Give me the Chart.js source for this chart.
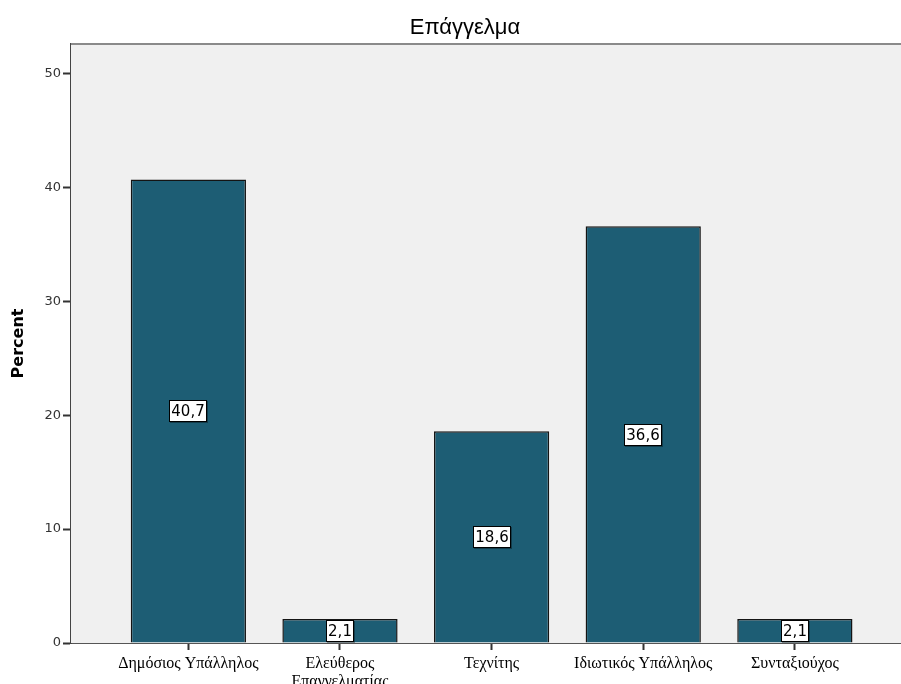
<!DOCTYPE html>
<html>
<head>
<meta charset="utf-8">
<script src="https://cdn.jsdelivr.net/npm/chart.js@4.4.1/dist/chart.umd.min.js"></script>
<style>
  html, body { margin: 0; padding: 0; background: #ffffff; }
  #wrap { width: 901px; height: 684px; }
</style>
</head>
<body>
<div id="wrap"><canvas id="c" width="901" height="684"></canvas></div>
<script>
// Occupation distribution (percent of respondents)
const categories = [
  'Δημόσιος Υπάλληλος',
  ['Ελεύθερος', 'Επαγγελματίας'],
  'Τεχνίτης',
  'Ιδιωτικός Υπάλληλος',
  'Συνταξιούχος'
];
const percents = [40.7, 2.1, 18.6, 36.6, 2.1];
const yTicks = [0, 10, 20, 30, 40, 50];
const chartTitle = 'Επάγγελμα';
const yTitle = 'Percent';

const positions = categories.map((_, i) => i + 1);
const points = percents.map((v, i) => ({ x: positions[i], y: v }));

const fmt = v => v.toFixed(1).replace('.', ',');

// Grey plot background with a frame line along the top
const plotFrame = {
  id: 'plotFrame',
  beforeDatasetsDraw(chart) {
    const { ctx, chartArea: a } = chart;
    ctx.save();
    ctx.fillStyle = '#f0f0f0';
    ctx.fillRect(a.left, a.top, a.right - a.left, a.bottom - a.top);
    ctx.strokeStyle = '#8a8a8a';
    ctx.lineWidth = 2;
    ctx.beginPath();
    ctx.moveTo(a.left, a.top);
    ctx.lineTo(a.right, a.top);
    ctx.stroke();
    ctx.restore();
  }
};

// Title drawn above the plot
const titleText = {
  id: 'titleText',
  afterDraw(chart) {
    const { ctx } = chart;
    ctx.save();
    ctx.font = '22px "Liberation Sans", Arial, sans-serif';
    ctx.fillStyle = '#000';
    ctx.textAlign = 'center';
    ctx.textBaseline = 'middle';
    ctx.fillText(chartTitle, 465, 28);
    ctx.restore();
  }
};

// Value boxes centred on each bar
const valueBoxes = {
  id: 'valueBoxes',
  afterDatasetsDraw(chart) {
    const { ctx } = chart;
    const xs = chart.scales.x, ys = chart.scales.y;
    ctx.save();
    ctx.font = '15px "DejaVu Sans", sans-serif';
    ctx.textAlign = 'center';
    ctx.textBaseline = 'middle';
    percents.forEach((v, i) => {
      const cx = Math.round(xs.getPixelForValue(positions[i]));
      const cy = Math.round(ys.getPixelForValue(v / 2));
      const txt = fmt(v);
      const w = Math.ceil(ctx.measureText(txt).width) + 4;
      const h = 22;
      const x0 = cx - w / 2, y0 = cy - h / 2;
      ctx.fillStyle = 'rgba(0,0,0,0.35)';
      ctx.fillRect(x0 + 1, y0 + 1, w, h);
      ctx.fillStyle = '#ffffff';
      ctx.fillRect(x0, y0, w, h);
      ctx.strokeStyle = '#000';
      ctx.lineWidth = 1;
      ctx.strokeRect(x0 + 0.5, y0 + 0.5, w - 1, h - 1);
      ctx.fillStyle = '#000';
      ctx.fillText(txt, cx, cy + 1);
    });
    ctx.restore();
  }
};

new Chart(document.getElementById('c'), {
  type: 'bar',
  data: {
    datasets: [{
      data: points,
      backgroundColor: '#1d5d74',
      borderColor: '#141414',
      borderWidth: 1.5,
      barPercentage: 0.76,
      categoryPercentage: 1.0
    }]
  },
  options: {
    responsive: false,
    animation: false,
    layout: { padding: { top: 44, right: 0, bottom: 0, left: 0 } },
    plugins: {
      legend: { display: false },
      title: { display: false },
      tooltip: { enabled: false }
    },
    scales: {
      x: {
        type: 'linear',
        offset: false,
        min: 0.226,
        max: 5.70,
        grid: { display: true, offset: false, drawOnChartArea: false, drawTicks: true, tickLength: 7, tickColor: '#333', tickWidth: 2 },
        border: { display: true, color: '#555', width: 2 },
        afterBuildTicks(scale) { scale.ticks = positions.map(p => ({ value: p })); },
        afterFit(scale) { scale.height = 41; },
        ticks: {
          autoSkip: false,
          maxRotation: 0,
          padding: 5,
          color: '#000',
          font: { family: '"Liberation Serif", serif', size: 16, lineHeight: 1.1 },
          callback: (v) => categories[v - 1]
        }
      },
      y: {
        min: 0,
        max: 52.6,
        grid: { display: true, drawOnChartArea: false, drawTicks: true, tickLength: 8, tickColor: '#333', tickWidth: 2 },
        border: { display: true, color: '#444', width: 2 },
        afterBuildTicks(scale) { scale.ticks = yTicks.map(v => ({ value: v })); },
        afterFit(scale) { scale.width = 71; },
        ticks: {
          padding: 2,
          color: '#333',
          font: { family: '"DejaVu Sans", sans-serif', size: 13 }
        },
        title: {
          display: true,
          text: yTitle,
          color: '#000',
          padding: { top: 9, bottom: 0 },
          font: { family: '"DejaVu Sans", sans-serif', size: 16, weight: 'bold' }
        }
      }
    }
  },
  plugins: [plotFrame, valueBoxes, titleText]
});
</script>
</body>
</html>
